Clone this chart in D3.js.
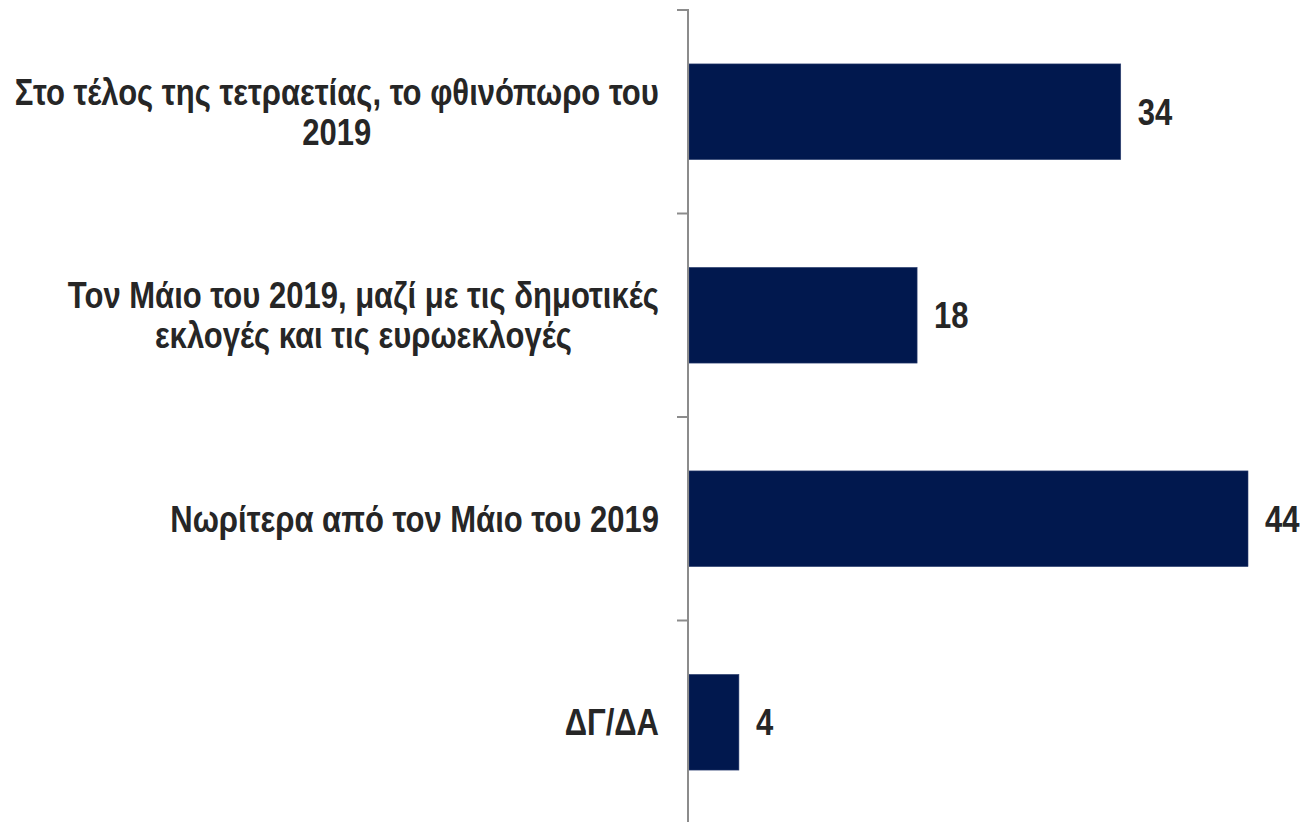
<!DOCTYPE html>
<html>
<head>
<meta charset="utf-8">
<script src="https://cdn.jsdelivr.net/npm/d3@7"></script>
<style>
  html, body { margin: 0; padding: 0; background: #fff; }
  svg text { font-family: "Liberation Sans Narrow", "Arial Narrow", "Liberation Sans", sans-serif; font-weight: bold; fill: #262626; }
</style>
</head>
<body>
<svg id="chart"></svg>
<script>
// categories (line breaks as in the original labels)
const categories = [
  "Στο τέλος της τετραετίας, το φθινόπωρο του\n2019",
  "Τον Μάιο του 2019, μαζί με τις δημοτικές\nεκλογές και τις ευρωεκλογές",
  "Νωρίτερα από τον Μάιο του 2019",
  "ΔΓ/ΔΑ"
];
const values = [34, 18, 44, 4];

const width = 1303, height = 822;
const axisX = 688;
const squeeze = 0.85; // narrow-font look

const svg = d3.select("#chart").attr("width", width).attr("height", height);

const x = d3.scaleLinear().domain([0, 44]).range([axisX, 1248]);

const y = d3.scaleBand()
  .domain(categories)
  .range([10, 824])
  .paddingInner(0.53)
  .paddingOuter(0.265);

// bars
svg.append("g").selectAll("rect")
  .data(categories)
  .enter().append("rect")
  .attr("x", x(0) + 1)
  .attr("y", d => y(d))
  .attr("width", (d, i) => x(values[i]) - x(0) - 1)
  .attr("height", y.bandwidth())
  .attr("fill", "#01184e")
  .attr("stroke", "#2c3f70")
  .attr("stroke-width", 0.6);

// axis line + ticks at band boundaries
const axis = svg.append("g").attr("stroke", "#8c8c8c").attr("stroke-width", 2);
axis.append("line").attr("x1", axisX).attr("x2", axisX).attr("y1", 9).attr("y2", height);
const bounds = categories.map(c => y(c) - y.step() * y.paddingInner() / 2);
axis.selectAll(".tick")
  .data(bounds)
  .enter().append("line")
  .attr("x1", axisX - 11).attr("x2", axisX)
  .attr("y1", d => d).attr("y2", d => d);

// category labels (centred block, right edge near the axis)
const fs = 36.5, lh = 40, labelRight = 659;
categories.forEach(c => {
  const lines = c.split("\n");
  const g = svg.append("g");
  const t = g.append("text").attr("font-size", fs).attr("text-anchor", "middle");
  const cy = y(c) + y.bandwidth() / 2;
  lines.forEach((ln, j) => {
    t.append("tspan")
      .attr("x", 0)
      .attr("y", cy + (j - (lines.length - 1) / 2) * lh)
      .attr("dy", "0.36em")
      .text(ln);
  });
  const w = t.node().getBBox().width * squeeze;
  g.attr("transform", `translate(${labelRight - w / 2},0) scale(${squeeze},1)`);
});

// value labels
svg.append("g").selectAll("g")
  .data(categories)
  .enter().append("g")
  .attr("transform", (d, i) => `translate(${x(values[i]) + 17},${y(d) + y.bandwidth() / 2}) scale(${squeeze},1)`)
  .append("text")
  .attr("dy", "0.36em")
  .attr("font-size", fs)
  .text((d, i) => values[i]);
</script>
</body>
</html>
